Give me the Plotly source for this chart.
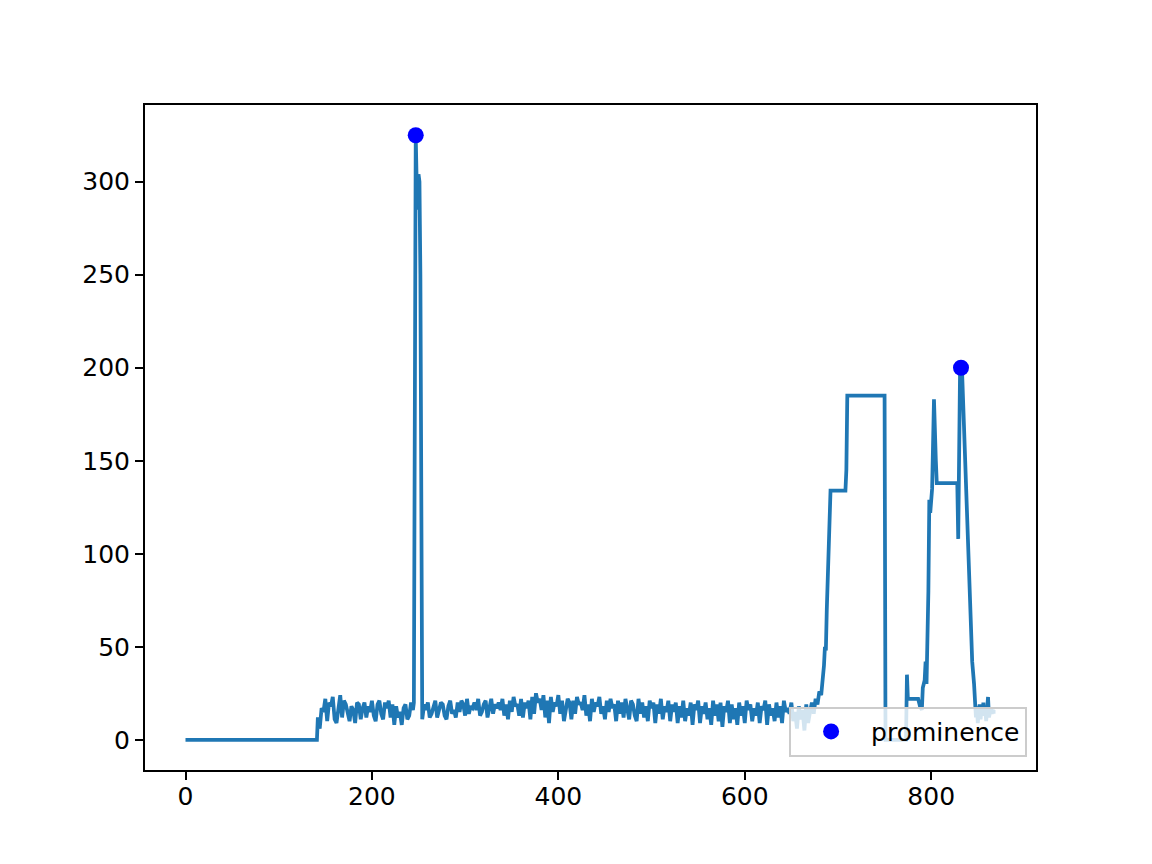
import plotly.graph_objects as go

# flat start, then noisy baseline, spike, plateaus, second peak
flat_x = [0, 141]
flat_y = [0, 0]

# noise before the first spike, sampled every 2 steps from 142
noise_a_start = 142
noise_a = [12, 6, 17, 15, 22, 10, 20, 18, 23, 11, 9, 18, 24, 12, 21, 19, 14, 10, 18, 16,
           9, 20, 19, 11, 17, 20, 12, 18, 15, 21, 13, 10, 19, 21, 14, 11, 20, 17, 21, 12,
           19, 8, 18, 12, 15, 8, 17, 19, 11, 13, 20, 16]

spike_x = [245, 246, 247, 248, 249, 250, 251, 252, 253]
spike_y = [20, 150, 325, 300, 285, 304, 300, 250, 120]

# long noisy baseline, every 2 steps from 254 to 680
noise_b_start = 254
noise_b = [11, 19, 16, 20, 12, 14, 18, 21, 12, 17, 20, 19, 13, 11, 18, 21, 14, 16, 12, 20,
           15, 21, 19, 13, 22, 14, 18, 17, 20, 16, 22, 13, 15, 19, 21, 12, 18, 22, 14, 19,
           17, 20, 16, 22, 13, 19, 11, 21, 15, 23, 18, 19, 13, 22, 12, 20, 17, 21, 11, 23,
           14, 25, 20, 22, 16, 24, 12, 21, 9, 23, 15, 20, 18, 24, 14, 21, 10, 17, 22, 20,
           11, 21, 14, 23, 19, 20, 16, 24, 13, 19, 10, 22, 15, 20, 18, 23, 14, 18, 11, 21,
           15, 22, 17, 19, 10, 21, 14, 20, 12, 22, 16, 11, 21, 19, 13, 10, 22, 14, 20, 12,
           18, 10, 21, 17, 20, 9, 19, 14, 22, 11, 18, 15, 21, 10, 19, 15, 20, 9, 18, 12,
           21, 10, 17, 13, 20, 8, 19, 16, 21, 9, 18, 14, 20, 11, 17, 8, 21, 13, 19, 10,
           20, 7, 18, 15, 21, 9, 19, 11, 17, 8, 20, 13, 18, 9, 21, 16, 19, 10, 17, 13,
           20, 9, 18, 16, 21, 8, 19, 13, 17, 10, 20, 12, 18, 9, 21, 15, 17, 14, 20, 10,
           15, 6, 18, 11, 16, 5, 19, 9, 15, 20, 14, 22, 19, 26]

# rise, plateaus, drop to zero, second group of peaks
late_x = [682, 684, 685, 686, 687, 688, 689, 690, 691, 692, 708, 709, 710, 750, 751, 773,
          774, 775, 786, 788, 790, 791, 793, 794, 795, 797, 798, 799, 800, 801, 803, 804,
          805, 806, 828, 829, 831, 833, 835, 838, 841, 843, 844, 846, 847]
late_y = [24, 33, 40, 50, 48, 70, 92, 100, 118, 134, 134, 145, 185, 185, 0, 0,
          35, 22, 22, 18, 16, 28, 32, 42, 30, 80, 129, 122, 130, 135, 183, 155,
          150, 138, 138, 108, 200, 200, 170, 120, 80, 55, 42, 30, 22]

# tail noise, every step from 848
tail_start = 848
tail = [12, 18, 9, 15, 19, 11, 17, 14, 20, 13, 16, 10, 18, 23, 12, 15, 17, 14, 16, 15, 15, 15]

peak_x = [247, 832]
peak_y = [325, 200]

xs = list(flat_x)
ys = list(flat_y)
xs += [noise_a_start + 2 * i for i in range(len(noise_a))]
ys += noise_a
xs += spike_x
ys += spike_y
xs += [noise_b_start + 2 * i for i in range(len(noise_b))]
ys += noise_b
xs += late_x
ys += late_y
xs += [tail_start + i for i in range(len(tail))]
ys += tail

fig = go.Figure()
fig.add_trace(go.Scatter(x=xs, y=ys, mode="lines", line=dict(color="#1f77b4", width=3.75),
                         showlegend=False, hoverinfo="skip"))
fig.add_trace(go.Scatter(x=peak_x, y=peak_y, mode="markers", name="prominence",
                         marker=dict(color="#0000ff", size=16)))

axis_style = dict(showgrid=False, zeroline=False, showline=True, linecolor="black",
                  linewidth=2, mirror=True, ticks="outside", ticklen=8, tickwidth=2,
                  tickcolor="black", tickfont=dict(size=25, color="black"))

xmax = max(xs)
fig.update_xaxes(range=[-0.05 * xmax, 1.05 * xmax], tickvals=[0, 200, 400, 600, 800],
                 ticklabelstandoff=-5, **axis_style)
fig.update_yaxes(range=[-0.05 * 325, 325 * 1.05], tickvals=[0, 50, 100, 150, 200, 250, 300], **axis_style)

fig.update_layout(
    width=1152, height=864,
    margin=dict(l=137, r=124, t=97, b=102),
    plot_bgcolor="white", paper_bgcolor="white",
    font=dict(family="DejaVu Sans", size=25, color="black"),
    legend=dict(x=0.99, y=0.02, xanchor="right", yanchor="bottom",
                bgcolor="rgba(255,255,255,0.8)", bordercolor="#cccccc", borderwidth=2,
                itemwidth=70, font=dict(size=25)),
)

fig.write_html("out.html")
